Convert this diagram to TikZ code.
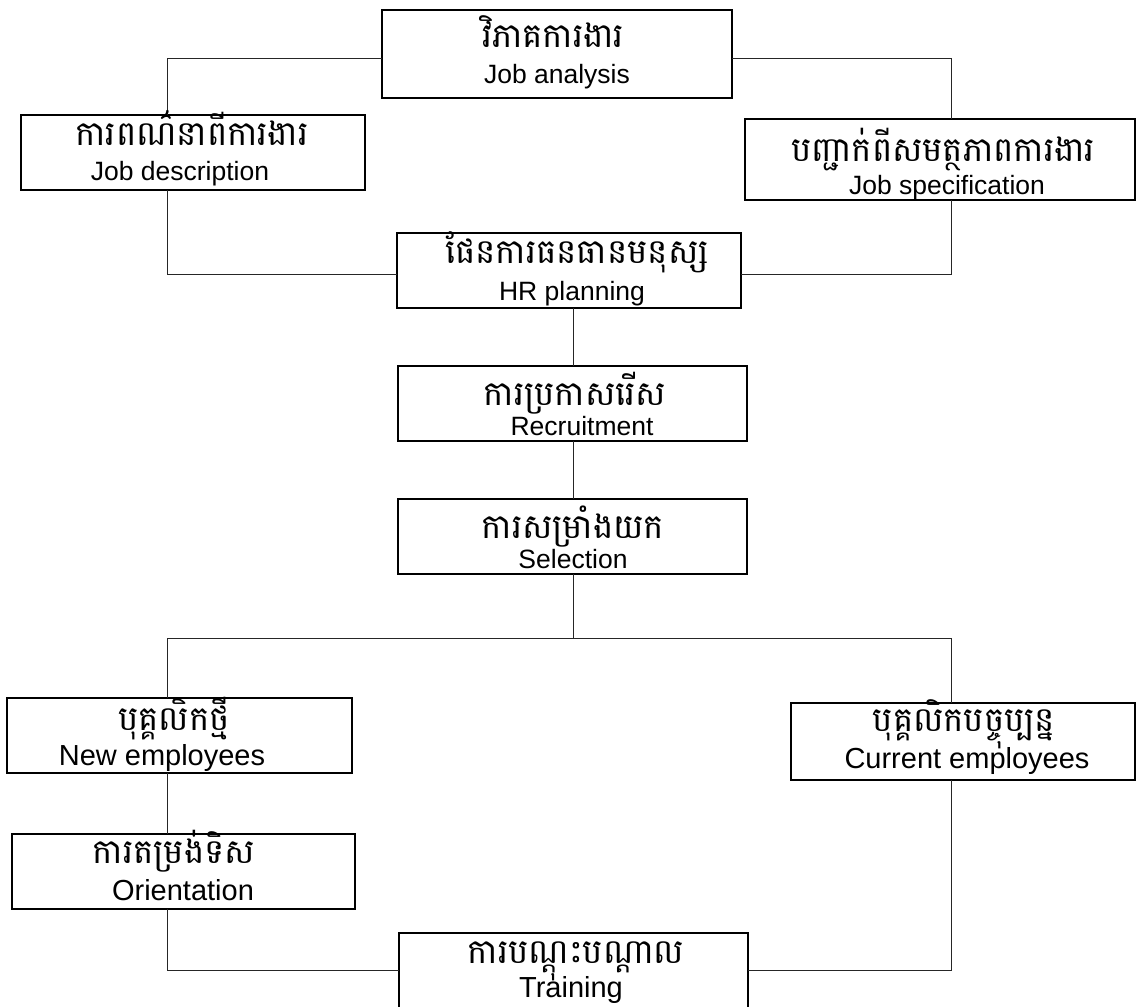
\documentclass[tikz,border=0pt]{standalone}
\usepackage{fontspec}
\setmainfont{Liberation Sans}
\newfontfamily\khmer[Script=Khmer]{Battambang}
\begin{document}
\begin{tikzpicture}[x=1pt,y=-1pt,
  box/.style={draw, fill=white, line width=2.4pt, inner sep=0pt, outer sep=0pt, anchor=north west},
  conn/.style={line width=1pt, draw=black!85},
  kt/.style={anchor=base, inner sep=0pt, text depth=0pt, font=\khmer\fontsize{34}{38}\selectfont},
  et/.style={anchor=base, inner sep=0pt, text height=19pt, font=\fontsize{26.5}{30}\selectfont},
  etl/.style={anchor=base, inner sep=0pt, text height=21pt, font=\fontsize{29}{33}\selectfont}]
\useasboundingbox (0,0) rectangle (1136,1007);
\clip (0,0) rectangle (1136,1007);

\coordinate (xl) at (167,0);
\coordinate (xr) at (951,0);
\coordinate (xm) at (573,0);
\coordinate (yt) at (0,58);
\coordinate (yh) at (0,274);
\coordinate (ys) at (0,638);
\coordinate (yb) at (0,970);

% boxes
\node[box, minimum width=350pt, minimum height=88pt] (ja) at (382,10) {};
\node[box, minimum width=344pt, minimum height=75pt] (jd) at (21,115) {};
\node[box, minimum width=390pt, minimum height=81pt] (js) at (745,119) {};
\node[box, minimum width=344pt, minimum height=75pt] (hr) at (397,233) {};
\node[box, minimum width=349pt, minimum height=75pt] (rc) at (398,366) {};
\node[box, minimum width=349pt, minimum height=75pt] (sel) at (398,499) {};
\node[box, minimum width=345pt, minimum height=75pt] (ne) at (7,698) {};
\node[box, minimum width=344pt, minimum height=77pt] (ce) at (791,703) {};
\node[box, minimum width=343pt, minimum height=75pt] (or) at (12,834) {};
\node[box, minimum width=349pt, minimum height=80pt] (tr) at (399,933) {};

% connectors
\draw[conn] (ja.west |- yt) -| (jd.north -| xl);
\draw[conn] (ja.east |- yt) -| (js.north -| xr);
\draw[conn] (jd.south -| xl) |- (hr.west |- yh);
\draw[conn] (js.south -| xr) |- (hr.east |- yh);
\draw[conn] (hr.south -| xm) -- (rc.north -| xm);
\draw[conn] (rc.south -| xm) -- (sel.north -| xm);
\draw[conn] (sel.south -| xm) -- (xm |- ys);
\draw[conn] (ne.north -| xl) -- (xl |- ys) -- (xr |- ys) -- (ce.north -| xr);
\draw[conn] (ne.south -| xl) -- (or.north -| xl);
\draw[conn] (or.south -| xl) |- (tr.west |- yb);
\draw[conn] (ce.south -| xr) |- (tr.east |- yb);

% texts
\node[kt] (jak) at (553,47) {វិភាគការងារ};
\node[et] (jae) at (557,83) {Job analysis};
\node[kt] (jdk) at (192,145) {ការពណ៌នាពីការងារ};
\node[et] (jde) at (180,180) {Job description};
\node[kt] (jsk) at (943,161) {បញ្ជាក់ពីសមត្ថភាពការងារ};
\node[et] (jse) at (947,194) {Job specification};
\node[kt] (hrk) at (577,263) {ផែនការធនធានមនុស្ស};
\node[et] (hre) at (572,300) {HR planning};
\node[kt] (rck) at (575,405) {ការប្រកាសរើស};
\node[et] (rce) at (582,435) {Recruitment};
\node[kt] (selk) at (573,538) {ការសម្រាំងយក};
\node[et] (sele) at (573,568) {Selection};
\node[kt] (nek) at (174,730) {បុគ្គលិកថ្មី};
\node[etl] (nee) at (162,765) {New employees};
\node[kt] (cek) at (964,731) {បុគ្គលិកបច្ចុប្បន្ន};
\node[etl] (cee) at (967,768) {Current employees};
\node[kt] (ork) at (174,863) {ការតម្រង់ទិស};
\node[etl] (ore) at (183,900) {Orientation};
\node[kt] (trk) at (576,963) {ការបណ្តុះបណ្តាល};
\node[etl] (tre) at (571,997) {Training};
\end{tikzpicture}
\end{document}
